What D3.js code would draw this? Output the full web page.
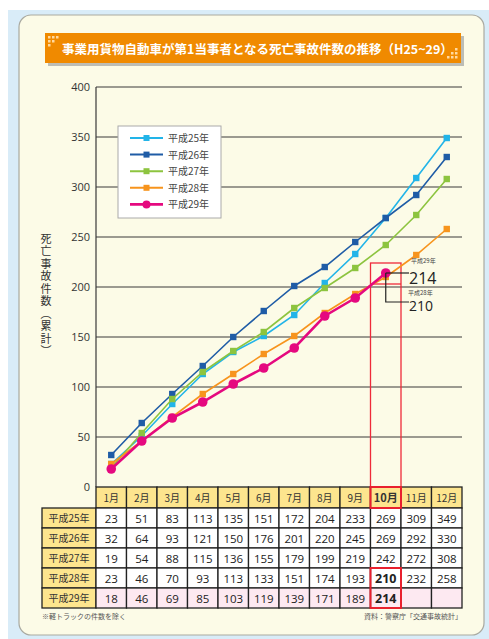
<!DOCTYPE html>
<html>
<head>
<meta charset="utf-8">
<script src="https://cdn.jsdelivr.net/npm/d3@7"></script>
<style>
  body { margin: 0; background: #fff; }
  svg { display: block; font-family: "Noto Sans CJK JP", "Noto Sans", sans-serif; }
</style>
</head>
<body>
<svg width="489" height="639"></svg>
<script>
const months = ['1月', '2月', '3月', '4月', '5月', '6月', '7月', '8月', '9月', '10月', '11月', '12月'];
const years = ['平成25年', '平成26年', '平成27年', '平成28年', '平成29年'];
const h25 = [23, 51, 83, 113, 135, 151, 172, 204, 233, 269, 309, 349];
const h26 = [32, 64, 93, 121, 150, 176, 201, 220, 245, 269, 292, 330];
const h27 = [19, 54, 88, 115, 136, 155, 179, 199, 219, 242, 272, 308];
const h28 = [23, 46, 70, 93, 113, 133, 151, 174, 193, 210, 232, 258];
const h29 = [18, 46, 69, 85, 103, 119, 139, 171, 189, 214];
const yTicks = [0, 50, 100, 150, 200, 250, 300, 350, 400];
const colors = ['#22b4e8', '#1f5ca6', '#8dc43f', '#f7941d', '#e5097f'];

const series = years.map((y, i) => ({ name: y, values: [h25, h26, h27, h28, h29][i], color: colors[i], last: i == 4 }));

const svg = d3.select('svg');

// frame
svg.append('rect').attr('x', 8).attr('y', 10).attr('width', 481).attr('height', 629).attr('fill', '#d9ecf8');
svg.append('rect').attr('x', 19).attr('y', 15).attr('width', 465).attr('height', 620)
  .attr('rx', 12).attr('fill', '#fcfbe7').attr('stroke', '#a9a9a0').attr('stroke-width', 1.2);

// title bar
svg.append('rect').attr('x', 48).attr('y', 36).attr('width', 416).attr('height', 30).attr('fill', '#bdbdb5');
svg.append('rect').attr('x', 45).attr('y', 33).attr('width', 416).attr('height', 30).attr('fill', '#f08a00');
const dots = [[48, 36], [52, 36], [56, 36], [48, 40], [52, 40], [48, 44], [455, 56], [451, 56], [455, 52], [447, 56], [451, 52], [455, 48]];
svg.append('g').selectAll('rect').data(dots).join('rect')
  .attr('x', d => d[0]).attr('y', d => d[1]).attr('width', 2.5).attr('height', 2.5).attr('fill', '#ffd9a0');
svg.append('text').attr('x', 62).attr('y', 53.5).attr('fill', '#fff').attr('font-size', 12.5).attr('font-weight', 'bold')
  .text('事業用貨物自動車が第1当事者となる死亡事故件数の推移（H25~29）');

// scales
const x = d3.scaleBand().domain(months).range([96, 462]);
const y = d3.scaleLinear().domain([0, 400]).range([487, 87]);

// grid
svg.append('g').selectAll('line').data(yTicks.slice(1)).join('line')
  .attr('x1', 96).attr('x2', 462).attr('y1', d => y(d)).attr('y2', d => y(d))
  .attr('stroke', '#3a3a3a').attr('stroke-width', 1.2);
svg.append('line').attr('x1', 96).attr('x2', 96).attr('y1', y(400)).attr('y2', y(0))
  .attr('stroke', '#3a3a3a').attr('stroke-width', 1.2);

const yAxis = d3.axisLeft(y).tickValues(yTicks).tickSize(0).tickPadding(6);
const ga = svg.append('g').attr('transform', 'translate(96,0)').call(yAxis);
ga.select('.domain').remove();
ga.selectAll('text').attr('font-size', 11).attr('fill', '#333').attr('font-family', '"Open Sans", "Noto Sans", sans-serif');

// y label
svg.append('text').attr('x', 46).attr('y', 233).attr('font-size', 11).attr('fill', '#333')
  .style('writing-mode', 'vertical-rl').attr('letter-spacing', 1.5)
  .text('死亡事故件数（累計）');

// highlight column
const hx = x('10月');
svg.append('rect').attr('x', hx).attr('y', 263).attr('width', x.bandwidth()).attr('height', y(0) - 263)
  .attr('fill', 'none').attr('stroke', '#ee2a3a').attr('stroke-width', 1.3);
svg.append('line').attr('x1', hx).attr('x2', hx + x.bandwidth()).attr('y1', 284).attr('y2', 284)
  .attr('stroke', '#ee2a3a').attr('stroke-width', 1.3);

// lines
const line = d3.line().x((d, i) => x(months[i]) + x.bandwidth() / 2).y(d => y(d));
const gs = svg.append('g').selectAll('g').data(series).join('g');
gs.append('path').attr('d', d => line(d.values)).attr('fill', 'none')
  .attr('stroke', d => d.color).attr('stroke-width', d => d.last ? 2.6 : 1.6);
gs.each(function(s) {
  const g = d3.select(this);
  if (s.last) {
    g.selectAll('circle').data(s.values).join('circle')
      .attr('cx', (d, i) => x(months[i]) + x.bandwidth() / 2).attr('cy', d => y(d))
      .attr('r', 4.8).attr('fill', s.color);
  } else {
    g.selectAll('rect').data(s.values).join('rect')
      .attr('x', (d, i) => x(months[i]) + x.bandwidth() / 2 - 3.2).attr('y', d => y(d) - 3.2)
      .attr('width', 6.4).attr('height', 6.4).attr('fill', s.color);
  }
});

// annotations
const cx10 = hx + x.bandwidth() / 2;
svg.append('path').attr('d', `M${cx10},${y(214)}H409`).attr('stroke', '#222').attr('stroke-width', 1.2).attr('fill', 'none');
svg.append('path').attr('d', `M${cx10},${y(214)}V302H409`).attr('stroke', '#222').attr('stroke-width', 1.2).attr('fill', 'none');
svg.append('text').attr('x', 411).attr('y', 262.5).attr('font-size', 6).attr('fill', '#444').text('平成29年');
svg.append('text').attr('x', 409).attr('y', 283.5).attr('font-size', 16).attr('fill', '#222').attr('font-family', '"Open Sans", sans-serif').text(h29[9]);
svg.append('text').attr('x', 408).attr('y', 294.5).attr('font-size', 6).attr('fill', '#444').text('平成28年');
svg.append('text').attr('x', 409).attr('y', 310.5).attr('font-size', 14).attr('fill', '#222').attr('font-family', '"Open Sans", sans-serif').text(h28[9]);

// legend
const lg = svg.append('g');
lg.append('rect').attr('x', 118).attr('y', 126).attr('width', 103).attr('height', 92)
  .attr('fill', '#fff').attr('stroke', '#aaa').attr('stroke-width', 1);
series.forEach((s, i) => {
  const ly = 138 + i * 16.6;
  lg.append('line').attr('x1', 130).attr('x2', 163).attr('y1', ly).attr('y2', ly)
    .attr('stroke', s.color).attr('stroke-width', s.last ? 2.8 : 2);
  if (s.last) lg.append('circle').attr('cx', 146.5).attr('cy', ly).attr('r', 4).attr('fill', s.color);
  else lg.append('rect').attr('x', 143.5).attr('y', ly - 3).attr('width', 6).attr('height', 6).attr('fill', s.color);
  lg.append('text').attr('x', 168).attr('y', ly + 4).attr('font-size', 10).attr('fill', '#444').text(s.name);
});

// table
const rowTop = 508, rowH = 20, labX = 42;
const tb = svg.append('g').attr('font-family', '"Open Sans", "Noto Sans", sans-serif');
tb.selectAll('rect.head').data(months).join('rect').attr('class', 'head')
  .attr('x', d => x(d)).attr('y', 487).attr('width', x.bandwidth()).attr('height', 21)
  .attr('fill', '#fde58e').attr('stroke', '#222').attr('stroke-width', 1.3);
tb.selectAll('text.head').data(months).join('text').attr('class', 'head')
  .attr('x', d => x(d) + x.bandwidth() / 2).attr('y', 502).attr('text-anchor', 'middle')
  .attr('font-size', d => d == '10月' ? 11 : 10).attr('font-weight', d => d == '10月' ? 'bold' : 'normal')
  .attr('fill', '#333').attr('font-family', '"Noto Sans CJK JP", sans-serif').text(d => d);

series.forEach((s, r) => {
  const ry = rowTop + r * rowH;
  tb.append('rect').attr('x', labX).attr('y', ry).attr('width', 96 - labX).attr('height', rowH)
    .attr('fill', '#fde58e').attr('stroke', '#222').attr('stroke-width', 1.3);
  tb.append('text').attr('x', (labX + 96) / 2).attr('y', ry + 14).attr('text-anchor', 'middle')
    .attr('font-size', 10).attr('fill', '#333').attr('font-family', '"Noto Sans CJK JP", sans-serif').text(s.name);
  months.forEach((m, c) => {
    tb.append('rect').attr('x', x(m)).attr('y', ry).attr('width', x.bandwidth()).attr('height', rowH)
      .attr('fill', s.last ? '#fde9f1' : '#fff').attr('stroke', '#222').attr('stroke-width', 1.3);
    const v = s.values[c];
    if (v !== undefined) {
      const bold = c == 9 && r >= 3;
      tb.append('text').attr('x', x(m) + x.bandwidth() / 2).attr('y', ry + 14.5).attr('text-anchor', 'middle')
        .attr('font-size', bold ? 12.5 : 11.5).attr('font-weight', bold ? 'bold' : 'normal')
        .attr('fill', '#222').text(v);
    }
  });
});
// red highlights in table
tb.append('rect').attr('x', hx).attr('y', 487).attr('width', x.bandwidth()).attr('height', 21)
  .attr('fill', 'none').attr('stroke', '#e8202e').attr('stroke-width', 2);
tb.append('rect').attr('x', hx).attr('y', rowTop + 3 * rowH).attr('width', x.bandwidth()).attr('height', 2 * rowH)
  .attr('fill', 'none').attr('stroke', '#e8202e').attr('stroke-width', 2);

// notes
svg.append('text').attr('x', 42).attr('y', 619).attr('font-size', 7).attr('fill', '#555').text('※軽トラックの件数を除く');
svg.append('text').attr('x', 462).attr('y', 619).attr('text-anchor', 'end').attr('font-size', 7).attr('fill', '#555').text('資料：警察庁「交通事故統計」');
</script>
</body>
</html>
